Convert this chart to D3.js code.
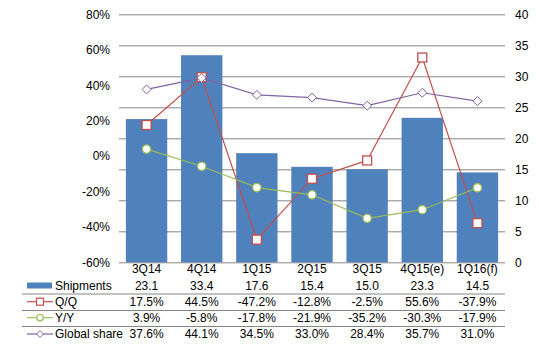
<!DOCTYPE html>
<html>
<head>
<meta charset="utf-8">
<script src="https://cdn.jsdelivr.net/npm/d3@7"></script>
<style>
  body { margin: 0; background: #fff; }
  text { font-family: "Liberation Sans", Arial, sans-serif; font-size: 12px; fill: #000; }
</style>
</head>
<body>
<div id="chart"></div>
<script>
// chart data
const categories = ["3Q14", "4Q14", "1Q15", "2Q15", "3Q15", "4Q15(e)", "1Q16(f)"];
const shipments = [23.1, 33.4, 17.6, 15.4, 15.0, 23.3, 14.5];
const qq = [17.5, 44.5, -47.2, -12.8, -2.5, 55.6, -37.9];
const yy = [3.9, -5.8, -17.8, -21.9, -35.2, -30.3, -17.9];
const share = [37.6, 44.1, 34.5, 33.0, 28.4, 35.7, 31.0];
const leftTicks = [-60, -40, -20, 0, 20, 40, 60, 80];
const rightTicks = [0, 5, 10, 15, 20, 25, 30, 35, 40];

const width = 539, height = 350;
const margin = {top: 14.3, left: 119, right: 34, bottom: 87.7};
const plotW = width - margin.left - margin.right;
const plotH = height - margin.top - margin.bottom;

const svg = d3.select("#chart").append("svg")
    .attr("width", width)
    .attr("height", height);

const g = svg.append("g")
    .attr("transform", "translate(" + margin.left + "," + margin.top + ")");

const x = d3.scaleBand().domain(categories).range([0, plotW]).paddingInner(0.25).paddingOuter(0.125);
const xc = d => x(d) + x.bandwidth() / 2;
const yL = d3.scaleLinear().domain([-60, 80]).range([plotH, 0]);
const yR = d3.scaleLinear().domain([0, 40]).range([plotH, 0]);

const gridColor = "#868686";

// gridlines follow the right axis
g.selectAll(".grid").data(rightTicks).enter().append("line")
    .attr("x1", 0).attr("x2", plotW)
    .attr("y1", d => Math.round(yR(d)) + 0.5).attr("y2", d => Math.round(yR(d)) + 0.5)
    .attr("stroke", gridColor).attr("stroke-width", 1);

// left axis labels
const leftAxis = d3.axisLeft(yL).tickValues(leftTicks).tickFormat(d => d + "%").tickSize(0).tickPadding(9);
g.append("g").call(leftAxis).call(a => a.select(".domain").remove())
    .selectAll("text").style("font-size", "12px").style("font-family", "Liberation Sans, Arial, sans-serif").attr("fill", "#000");

// right axis labels
const rightAxis = d3.axisRight(yR).tickValues(rightTicks).tickSize(0).tickPadding(10);
g.append("g").attr("transform", "translate(" + plotW + ",0)")
    .call(rightAxis).call(a => a.select(".domain").remove())
    .selectAll("text").style("font-size", "12px").style("font-family", "Liberation Sans, Arial, sans-serif").attr("fill", "#000");

// bars
g.selectAll(".bar").data(shipments).enter().append("rect")
    .attr("x", (d, i) => x(categories[i]))
    .attr("width", x.bandwidth())
    .attr("y", d => yR(d))
    .attr("height", d => plotH - yR(d))
    .attr("fill", "#4F81BD");

const series = [
    {name: "Q/Q", values: qq, color: "#C0504D", marker: "square"},
    {name: "Y/Y", values: yy, color: "#9BBB59", marker: "circle"},
    {name: "Global share", values: share, color: "#8064A2", marker: "diamond"}
];

function drawMarker(sel, type, color) {
    if (type === "square") {
        sel.append("rect").attr("x", -4.5).attr("y", -4.5).attr("width", 9).attr("height", 9)
            .attr("fill", "#fff").attr("stroke", color).attr("stroke-width", 1.3);
    } else if (type === "circle") {
        sel.append("circle").attr("r", 4.2)
            .attr("fill", "#fff").attr("stroke", color).attr("stroke-width", 1.3);
    } else {
        sel.append("path").attr("d", "M0,-4.5L4.5,0L0,4.5L-4.5,0Z")
            .attr("fill", "#fff").attr("stroke", color).attr("stroke-width", 1);
    }
}

const line = d3.line().x((d, i) => xc(categories[i])).y(d => yL(d));

series.forEach(s => {
    g.append("path").datum(s.values)
        .attr("d", line)
        .attr("fill", "none")
        .attr("stroke", s.color)
        .attr("stroke-width", 1.2);
    g.selectAll(null).data(s.values).enter().append("g")
        .attr("transform", (d, i) => "translate(" + xc(categories[i]) + "," + yL(d) + ")")
        .each(function() { drawMarker(d3.select(this), s.marker, s.color); });
});

// data table
const rowY = [285.5, 301.7, 317.7, 334];
const sepY = [293.5, 310, 326];
const tableLeft = 22;

g.selectAll(".cat").data(categories).enter().append("text")
    .attr("x", d => xc(d))
    .attr("y", 269 - margin.top)
    .attr("dy", "0.35em")
    .attr("text-anchor", "middle")
    .text(d => d);

svg.selectAll(".sep").data(sepY).enter().append("line")
    .attr("x1", tableLeft).attr("x2", margin.left + plotW)
    .attr("y1", d => d + 0.5).attr("y2", d => d + 0.5)
    .attr("stroke", gridColor).attr("stroke-width", 1);

const rows = [
    {name: "Shipments", values: shipments, fmt: d => d.toFixed(1)},
    {name: "Q/Q", values: qq, fmt: d => d.toFixed(1) + "%"},
    {name: "Y/Y", values: yy, fmt: d => d.toFixed(1) + "%"},
    {name: "Global share", values: share, fmt: d => d.toFixed(1) + "%"}
];

rows.forEach((r, ri) => {
    const cy = rowY[ri];
    // legend key
    if (ri === 0) {
        svg.append("rect").attr("x", 27).attr("y", cy - 3).attr("width", 25).attr("height", 6)
            .attr("fill", "#4F81BD");
    } else {
        const s = series[ri - 1];
        svg.append("line").attr("x1", 27).attr("x2", 53).attr("y1", cy).attr("y2", cy)
            .attr("stroke", s.color).attr("stroke-width", 1.2);
        const m = svg.append("g").attr("transform", "translate(40," + cy + ")");
        if (s.marker === "square") {
            m.append("rect").attr("x", -3.5).attr("y", -3.5).attr("width", 7).attr("height", 7)
                .attr("fill", "#fff").attr("stroke", s.color).attr("stroke-width", 1.2);
        } else if (s.marker === "circle") {
            m.append("circle").attr("r", 3.2).attr("fill", "#fff").attr("stroke", s.color).attr("stroke-width", 1.2);
        } else {
            m.append("path").attr("d", "M0,-3.5L3.5,0L0,3.5L-3.5,0Z")
                .attr("fill", "#fff").attr("stroke", s.color).attr("stroke-width", 1);
        }
    }
    svg.append("text").attr("x", 55).attr("y", cy).attr("dy", "0.35em").text(r.name);
    g.selectAll(null).data(r.values).enter().append("text")
        .attr("x", (d, i) => xc(categories[i]))
        .attr("y", cy - margin.top)
        .attr("dy", "0.35em")
        .attr("text-anchor", "middle")
        .text(r.fmt);
});
</script>
</body>
</html>
